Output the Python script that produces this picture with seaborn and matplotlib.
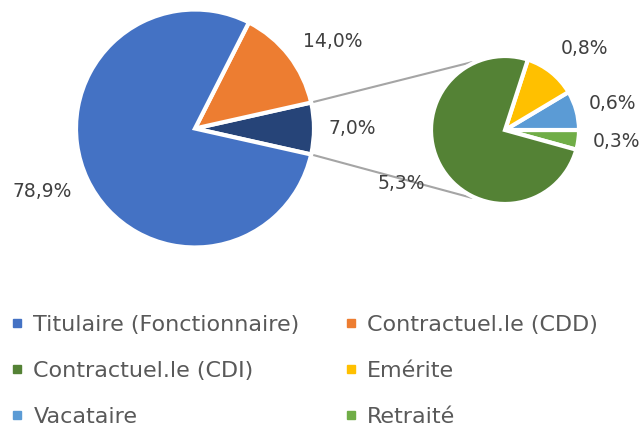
import matplotlib
matplotlib.use("Agg")
import matplotlib.pyplot as plt
import seaborn as sns
import numpy as np
from matplotlib.lines import Line2D

# ---- data ----
main_labels = ["Titulaire (Fonctionnaire)", "Contractuel.le (CDD)", "Autres"]
main_values = [78.9, 14.0, 7.0]
sub_labels = ["Contractuel.le (CDI)", "Emérite", "Vacataire", "Retraité"]
sub_values = [5.3, 0.8, 0.6, 0.3]

main_colors = ["#4472C4", "#ED7D31", "#264478"]
sub_colors = ["#548235", "#FFC000", "#5B9BD5", "#70AD47"]

sns.set_theme(style="white")
plt.rcParams["font.family"] = ["DejaVu Sans"]

W, H = 643, 426
fig = plt.figure(figsize=(W / 100, H / 100), dpi=100)
ax = fig.add_axes([0, 0, 1, 1])

def fmt(v):
    return f"{v:.1f}%".replace(".", ",")

# label placement (angle offset in deg, radial distance) per wedge, in draw order
main_lbl_layout = [(0, 1.32), (-5.5, 1.37), (-3, 1.39)]
sub_lbl_layout = [(2, 1.51), (-1.5, 1.49), (-6, 1.54), (-1, 1.57)]

# main pie: order counterclockwise -> other, CDD, Titulaire
m_order = [2, 1, 0]
m_vals = [main_values[i] for i in m_order]
other_deg = main_values[2] / sum(main_values) * 360
main_c = (195, H - 128.5)
main_r = 119
wedges1, texts1 = ax.pie(
    m_vals, colors=[main_colors[i] for i in m_order],
    labels=[fmt(v) for v in m_vals], labeldistance=1.38,
    startangle=-other_deg / 2, counterclock=True,
    center=main_c, radius=main_r,
    wedgeprops=dict(edgecolor="white", linewidth=3),
    textprops=dict(fontsize=13.5, color="#404040"),
)

# sub pie: counterclockwise -> Retraité, Vacataire, Emérite, CDI
s_order = [3, 2, 1, 0]
s_vals = [sub_values[i] for i in s_order]
ret_deg = sub_values[3] / sum(sub_values) * 360
sub_c = (505, H - 130)
sub_r = 74
wedges2, texts2 = ax.pie(
    s_vals, colors=[sub_colors[i] for i in s_order],
    labels=[fmt(v) for v in s_vals], labeldistance=1.55,
    startangle=-ret_deg, counterclock=True,
    center=sub_c, radius=sub_r,
    wedgeprops=dict(edgecolor="white", linewidth=3),
    textprops=dict(fontsize=13.5, color="#404040"),
)

def place(wedges, texts, layout, c, r):
    for w, t, (da, d) in zip(wedges, texts, layout):
        a = np.deg2rad((w.theta1 + w.theta2) / 2 + da)
        t.set_position((c[0] + d * r * np.cos(a), c[1] + d * r * np.sin(a)))
        t.set_ha("center")
        t.set_va("center")

place(wedges1, texts1, main_lbl_layout, main_c, main_r)
place(wedges2, texts2, sub_lbl_layout, sub_c, sub_r)

# connector lines
a1 = np.deg2rad(other_deg / 2)
for sgn in (1, -1):
    x0 = main_c[0] + main_r * 1.01 * np.cos(a1)
    y0 = main_c[1] + sgn * main_r * 1.01 * np.sin(a1)
    a2 = np.deg2rad(116)
    x1 = sub_c[0] + sub_r * 1.02 * np.cos(a2)
    y1 = sub_c[1] + sgn * sub_r * 1.02 * np.sin(a2)
    ax.plot([x0, x1], [y0, y1], color="#A5A5A5", lw=1.5, zorder=0)

ax.set_xlim(0, W)
ax.set_ylim(0, H)
ax.set_aspect("auto")
ax.axis("off")

# legend
leg_names = main_labels[:2] + sub_labels
leg_cols = main_colors[:2] + sub_colors
handles = [Line2D([0], [0], marker="s", linestyle="none", markersize=5.5,
                  markerfacecolor=c, markeredgecolor=c) for c in leg_cols]
order = [0, 2, 4, 1, 3, 5]
leg = ax.legend([handles[i] for i in order], [leg_names[i] for i in order],
                ncol=2, loc="upper left", bbox_to_anchor=(10 / W, 1 - 315 / H),
                frameon=False, fontsize=16, handlelength=0.6, handletextpad=0.45,
                columnspacing=2.0, labelspacing=1.17, borderpad=0, borderaxespad=0)
for t in leg.get_texts():
    t.set_color("#595959")

fig.savefig("out.png", dpi=100)
